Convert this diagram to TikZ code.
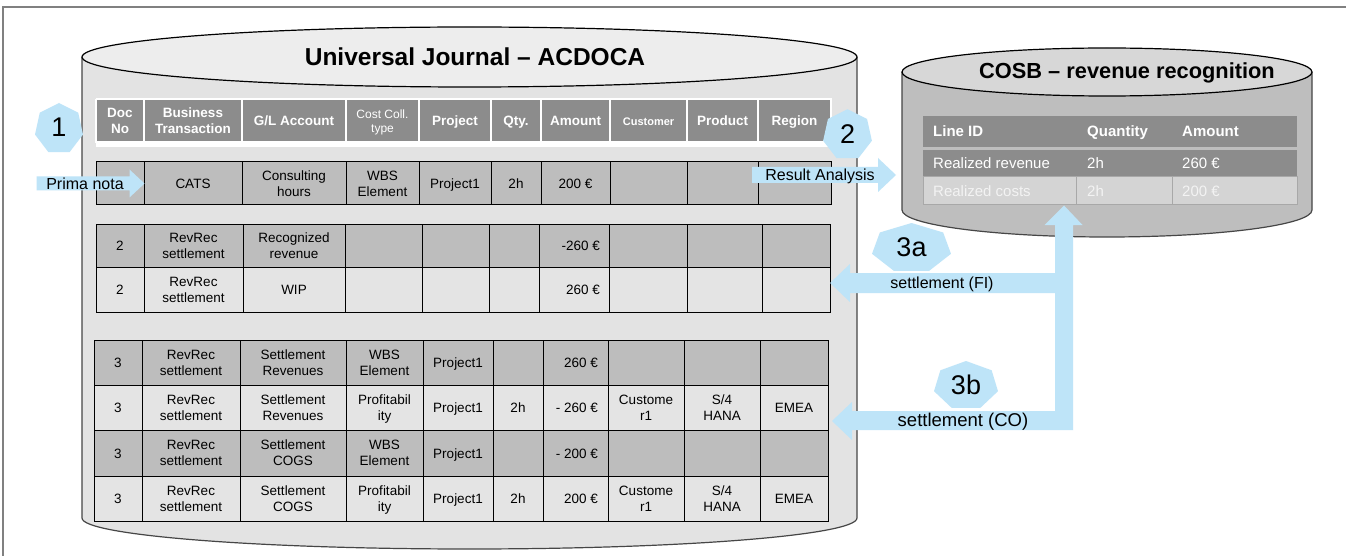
\documentclass[tikz,border=0pt]{standalone}
\usepackage{fontspec}
\setmainfont{Liberation Sans}
\usetikzlibrary{calc}

\definecolor{hdr}{RGB}{140,140,140}
\definecolor{darkrow}{RGB}{189,189,189}
\definecolor{lightrow}{RGB}{228,228,228}
\definecolor{bodyA}{RGB}{227,227,227}
\definecolor{topA}{RGB}{237,237,237}
\definecolor{bodyB}{RGB}{190,190,190}
\definecolor{topB}{RGB}{215,215,215}
\definecolor{rowB}{RGB}{212,212,212}
\definecolor{rowBline}{RGB}{168,168,168}
\definecolor{rowBtext}{RGB}{243,243,243}
\definecolor{lblue}{RGB}{190,228,248}
\definecolor{framec}{RGB}{128,128,128}
\definecolor{sidec}{RGB}{70,70,70}

% two-line cell text
\newcommand\two[2]{\begin{tabular}{@{}c@{}}#1\\#2\end{tabular}}
% right-aligned amount inside a cell
\newcommand\ra[1]{\makebox[\amtw][r]{#1}}
\def\amtw{50pt}

% one table row: name, top, bottom, style, column borders, cell texts
\newcommand\tabrow[6]{%
  \foreach \t [count=\i] in {#6} {%
    \pgfmathsetmacro\xl{{#5}[\i-1]}%
    \pgfmathsetmacro\xr{{#5}[\i]}%
    \node[#4, minimum width=\xr-\xl, minimum height=#3-#2] (#1-\i)
      at ({(\xl+\xr)/2},{(#2+#3)/2}) {\t};%
  }}

% heptagon badge: name, cx, cy, x radius, y radius, label
\newcommand\hepta[6]{%
  \fill[lblue, shift={(#2,#3)}] (270:#4 and #5) -- (321.43:#4 and #5)
    -- (12.86:#4 and #5) -- (64.29:#4 and #5) -- (115.71:#4 and #5)
    -- (167.14:#4 and #5) -- (218.57:#4 and #5) -- cycle;
  \node[font=\fontsize{27}{30}\selectfont, inner sep=0pt] (#1) at (#2,{#3-0.05*#5}) {#6};}

\tikzset{
  cell/.style={draw=black, line width=1pt, inner sep=0pt, text=black,
    text height=10.2pt, text depth=0pt,
    font=\fontsize{13.5}{15.8}\selectfont},
  dcell/.style={cell, fill=darkrow},
  lcell/.style={cell, fill=lightrow},
  hcell/.style={draw=white, line width=1.2pt, fill=hdr, inner sep=0pt, text=white,
    text height=10.2pt, text depth=0pt,
    font=\fontsize{13.5}{15.8}\selectfont\bfseries},
  cyltitle/.style={font=\bfseries\fontsize{#1}{28}\selectfont, inner sep=0pt},
  ctext/.style={anchor=base west, inner sep=0pt, font=\fontsize{15}{18}\selectfont},
  arrowtext/.style={inner sep=0pt, font=\fontsize{#1}{20}\selectfont},
}

\begin{document}
\begin{tikzpicture}[x=1pt, y=-1pt]
\useasboundingbox (0,0) rectangle (1346,556);
\fill[white] (0,0) rectangle (1346,556);

% page frame
\draw[framec, line width=2pt] (3,556) -- (3,7) -- (1346,7);

% ---------- Universal Journal cylinder ----------
\path[fill=bodyA, draw=sidec, line width=1.2pt]
  (82,57) -- (82,518)
  .. controls (82,535.1) and (255.5,549) .. (469.5,549)
  .. controls (683.5,549) and (857,535.1) .. (857,518) -- (857,57);
\draw[fill=topA, line width=1.2pt] (469.5,57) ellipse [x radius=387.5, y radius=30];
\node[cyltitle=24.5] (ujtitle) at (475,57) {Universal Journal – ACDOCA};

% header row
\fill[white] (95.5,98.5) rectangle (832,147);
\tabrow{hd}{99.5}{142}{hcell}{96,144,242,346,419,491,541,610,687,758,831}
  {\two{Doc}{No},\two{Business}{Transaction},G/L Account,
   {\mdseries\fontsize{12}{14}\selectfont\two{Cost Coll.}{type}},
   Project,Qty.,Amount,{\fontsize{11}{13}\selectfont Customer},Product,Region}

% prima nota posting
\tabrow{ga}{162}{205}{dcell}{96,144,242,346,419,491,541,610,687,758,831}
  {{},CATS,\two{Consulting}{hours},\two{WBS}{Element},Project1,2h,200 €,{},{},{}}

% FI settlement postings
\def\amtw{52pt}
\tabrow{gba}{224}{267}{dcell}{96,144,243,345,422,489,539,609,687,762,830}
  {2,\two{RevRec}{settlement},\two{Recognized}{revenue},{},{},{},\ra{-260 €},{},{},{}}
\tabrow{gbb}{267}{312}{lcell}{96,144,243,345,422,489,539,609,687,762,830}
  {2,\two{RevRec}{settlement},WIP,{},{},{},\ra{260 €},{},{},{}}

% CO settlement postings
\def\amtw{45pt}
\tabrow{gca}{340}{385}{dcell}{94,142,240,346,423,493,543,608,684,760,828}
  {3,\two{RevRec}{settlement},\two{Settlement}{Revenues},\two{WBS}{Element},Project1,{},\ra{260 €},{},{},{}}
\tabrow{gcb}{385}{430}{lcell}{94,142,240,346,423,493,543,608,684,760,828}
  {3,\two{RevRec}{settlement},\two{Settlement}{Revenues},\two{Profitabil}{ity},Project1,2h,\ra{- 260 €},\two{Custome}{r1},\two{S/4}{HANA},EMEA}
\tabrow{gcc}{430}{476}{dcell}{94,142,240,346,423,493,543,608,684,760,828}
  {3,\two{RevRec}{settlement},\two{Settlement}{COGS},\two{WBS}{Element},Project1,{},\ra{- 200 €},{},{},{}}
\tabrow{gcd}{476}{521}{lcell}{94,142,240,346,423,493,543,608,684,760,828}
  {3,\two{RevRec}{settlement},\two{Settlement}{COGS},\two{Profitabil}{ity},Project1,2h,\ra{200 €},\two{Custome}{r1},\two{S/4}{HANA},EMEA}

% ---------- COSB cylinder ----------
\path[fill=bodyB, draw=sidec, line width=1.2pt]
  (902,72) -- (902,210)
  .. controls (902,224.9) and (993.8,237) .. (1107,237)
  .. controls (1220.2,237) and (1312,224.9) .. (1312,210) -- (1312,72);
\draw[fill=topB, line width=1.2pt] (1107,72) ellipse [x radius=205, y radius=24];
\node[cyltitle=21.8] (cosbtitle) at (1127,73) {COSB – revenue recognition};

\node[fill=hdr, inner sep=0pt, minimum width=374, minimum height=31] (ch) at (1110,131.5) {};
\node[fill=hdr, inner sep=0pt, minimum width=374, minimum height=27] (cr) at (1110,163.5) {};
\node[fill=rowB, draw=rowBline, line width=1pt, inner sep=0pt, minimum width=153, minimum height=28] (cc1) at (999.5,191) {};
\node[fill=rowB, draw=rowBline, line width=1pt, inner sep=0pt, minimum width=96, minimum height=28] (cc2) at (1124,191) {};
\node[fill=rowB, draw=rowBline, line width=1pt, inner sep=0pt, minimum width=125, minimum height=28] (cc3) at (1234.5,191) {};

\node[ctext, text=white, font=\fontsize{15}{18}\selectfont\bfseries] (h1) at (933,137) {Line ID};
\node[ctext, text=white, font=\fontsize{15}{18}\selectfont\bfseries] (h2) at (1087,137) {Quantity};
\node[ctext, text=white, font=\fontsize{15}{18}\selectfont\bfseries] (h3) at (1182,137) {Amount};
\node[ctext, text=white] (r1) at (933,169) {Realized revenue};
\node[ctext, text=white] (r2) at (1087,169) {2h};
\node[ctext, text=white] (r3) at (1182,169) {260 €};
\node[ctext, text=rowBtext] (s1) at (933,196.5) {Realized costs};
\node[ctext, text=rowBtext] (s2) at (1087,196.5) {2h};
\node[ctext, text=rowBtext] (s3) at (1182,196.5) {200 €};

% ---------- block arrows ----------
% prima nota into the CATS posting
\fill[lblue] (ga-1.east) -- ++(-15,-14) -- ++(0,7) -- ++(-93,0) -- ++(0,14)
  -- ++(93,0) -- ++(0,7) -- cycle;
\node[arrowtext=16] (pn) at (85,184) {Prima nota};

% result analysis into COSB
\coordinate (raTip) at (896,175);
\fill[lblue] (raTip) -- ++(-18,-17) -- ++(0,9) -- ++(-126,0) -- ++(0,16)
  -- ++(126,0) -- ++(0,9) -- cycle;
\node[arrowtext=16] (ra) at (820,176.5) {Result Analysis};

% settlement from COSB back to the journal
\coordinate (upTip) at ($(cc1.south east)+(-12.5,0)$);
\coordinate (fiTip) at (830,283);
\coordinate (coTip) at (832,421);
\fill[lblue] (upTip) -- (1082.5,225) -- (1073,225) -- (1073,430) -- (852,430)
  -- (852,440) -- (coTip) -- (852,402) -- (852,411) -- (1055,411)
  -- (1055,293) -- (850,293) -- (850,302) -- (fiTip) -- (850,264)
  -- (850,273) -- (1055,273) -- (1055,225) -- (1044.5,225) -- cycle;
\node[arrowtext=16] (fi) at (942,284) {settlement (FI)};
\node[arrowtext=18.5] (co) at (963,422) {settlement (CO)};

% ---------- step badges ----------
\hepta{b1}{59}{128.8}{24.6}{25.8}{1}
\hepta{b2}{847.5}{135}{25}{25.8}{2}
\hepta{b3a}{911.5}{248.2}{40.5}{25.2}{3a}
\hepta{b3b}{966}{385.7}{32.8}{24.7}{3b}
\end{tikzpicture}
\end{document}
